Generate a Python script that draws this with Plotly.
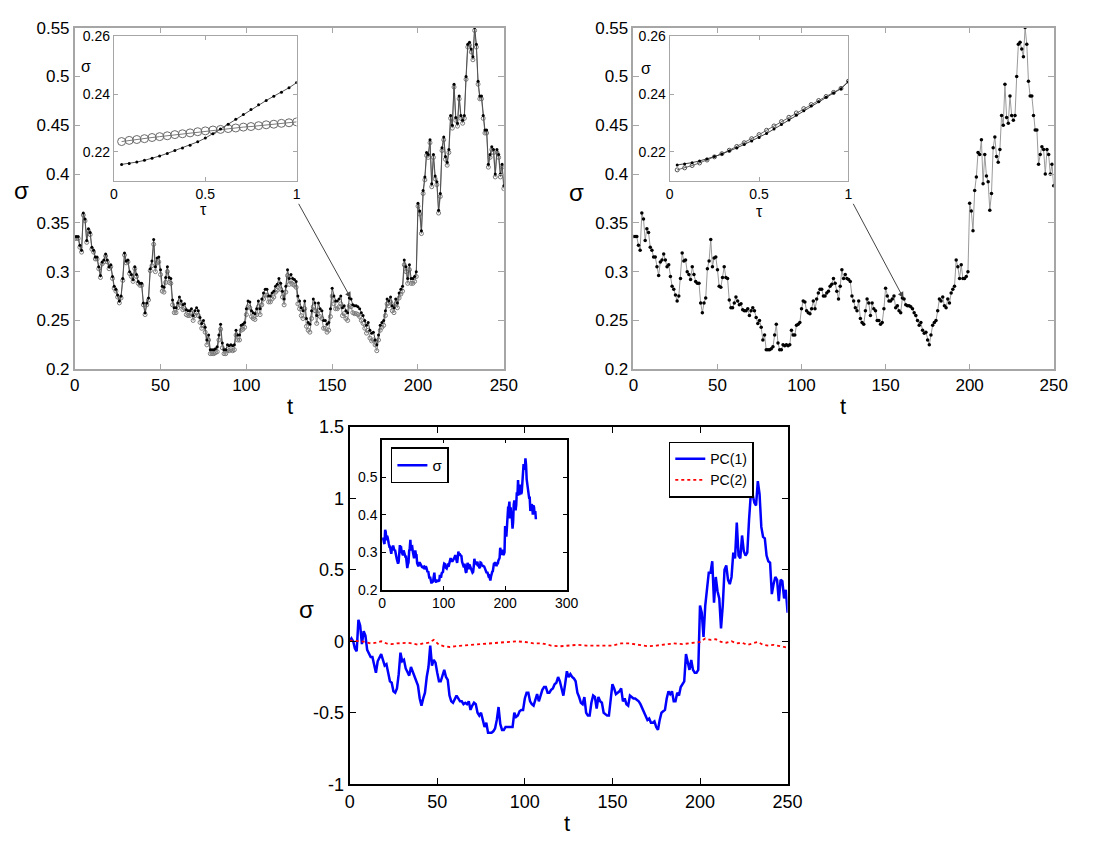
import plotly.graph_objects as go

W, H = 1106, 844
FONT = "Liberation Sans, Arial, sans-serif"

# ---------------- data ----------------
t = list(range(251))

sigma_market = [
    0.336, 0.336, 0.336, 0.327, 0.322, 0.360, 0.354, 0.332, 0.344, 0.340,
    0.325, 0.322, 0.315, 0.315, 0.305, 0.296, 0.310, 0.312, 0.318, 0.312,
    0.305, 0.307, 0.295, 0.285, 0.282, 0.276, 0.270, 0.275, 0.293, 0.319,
    0.311, 0.312, 0.300, 0.297, 0.292, 0.305, 0.297, 0.290, 0.288, 0.288,
    0.268, 0.258, 0.268, 0.273, 0.303, 0.311, 0.333, 0.305, 0.314, 0.315,
    0.302, 0.285, 0.284, 0.294, 0.305, 0.294, 0.293, 0.271, 0.263, 0.263,
    0.268, 0.274, 0.270, 0.266, 0.267, 0.261, 0.260, 0.260, 0.262, 0.255,
    0.260, 0.263, 0.260, 0.253, 0.247, 0.250, 0.243, 0.230, 0.235, 0.220,
    0.220, 0.220, 0.221, 0.223, 0.235, 0.246, 0.227, 0.220, 0.220, 0.225,
    0.224, 0.225, 0.224, 0.225, 0.240, 0.235, 0.235, 0.245, 0.246, 0.248,
    0.262, 0.270, 0.269, 0.260, 0.258, 0.257, 0.262, 0.270, 0.262, 0.272,
    0.278, 0.282, 0.282, 0.275, 0.275, 0.278, 0.280, 0.285, 0.287, 0.293,
    0.288, 0.280, 0.272, 0.285, 0.302, 0.293, 0.297, 0.293, 0.292, 0.290,
    0.275, 0.270, 0.263, 0.260, 0.270, 0.252, 0.248, 0.246, 0.260, 0.272,
    0.268, 0.255, 0.268, 0.262, 0.260, 0.250, 0.250, 0.246, 0.248, 0.262,
    0.283, 0.275, 0.270, 0.270, 0.272, 0.275, 0.263, 0.265, 0.260, 0.258,
    0.273, 0.272, 0.266, 0.265, 0.265, 0.264, 0.262, 0.258, 0.255, 0.250,
    0.245, 0.248, 0.240, 0.237, 0.238, 0.230, 0.225, 0.235, 0.245, 0.248,
    0.250, 0.260, 0.272, 0.270, 0.274, 0.265, 0.263, 0.272, 0.268, 0.278,
    0.282, 0.285, 0.312, 0.305, 0.293, 0.307, 0.293, 0.293, 0.295, 0.300,
    0.370, 0.362, 0.342, 0.383, 0.397, 0.422, 0.420, 0.435, 0.390, 0.420,
    0.398, 0.392, 0.363, 0.380, 0.427, 0.438, 0.418, 0.412, 0.425, 0.460,
    0.450, 0.492, 0.458, 0.452, 0.480, 0.460, 0.455, 0.460, 0.500, 0.533,
    0.535, 0.528, 0.520, 0.550, 0.533, 0.495, 0.480, 0.480, 0.460, 0.445,
    0.445, 0.410, 0.420, 0.428, 0.425, 0.400, 0.425, 0.420, 0.400, 0.410,
    0.388,
]

sigma_model = [
    0.334, 0.334, 0.334, 0.325, 0.320, 0.358, 0.352, 0.330, 0.342, 0.338,
    0.323, 0.320, 0.313, 0.313, 0.303, 0.294, 0.308, 0.310, 0.316, 0.310,
    0.303, 0.305, 0.293, 0.283, 0.280, 0.274, 0.268, 0.273, 0.291, 0.317,
    0.309, 0.310, 0.298, 0.295, 0.290, 0.303, 0.295, 0.288, 0.286, 0.286,
    0.266, 0.256, 0.266, 0.271, 0.301, 0.306, 0.328, 0.300, 0.309, 0.310,
    0.297, 0.280, 0.279, 0.289, 0.300, 0.289, 0.288, 0.266, 0.258, 0.258,
    0.263, 0.269, 0.265, 0.261, 0.262, 0.256, 0.255, 0.255, 0.257, 0.250,
    0.255, 0.258, 0.255, 0.248, 0.242, 0.245, 0.238, 0.225, 0.230, 0.216,
    0.216, 0.216, 0.217, 0.218, 0.230, 0.241, 0.222, 0.216, 0.216, 0.220,
    0.219, 0.220, 0.219, 0.220, 0.235, 0.230, 0.230, 0.240, 0.241, 0.243,
    0.256, 0.264, 0.263, 0.254, 0.252, 0.251, 0.256, 0.264, 0.256, 0.266,
    0.272, 0.276, 0.276, 0.269, 0.269, 0.272, 0.274, 0.279, 0.281, 0.287,
    0.282, 0.274, 0.266, 0.279, 0.296, 0.287, 0.291, 0.287, 0.286, 0.284,
    0.267, 0.262, 0.255, 0.252, 0.262, 0.244, 0.240, 0.238, 0.252, 0.264,
    0.260, 0.247, 0.260, 0.254, 0.252, 0.242, 0.242, 0.238, 0.240, 0.254,
    0.275, 0.267, 0.262, 0.262, 0.264, 0.267, 0.255, 0.257, 0.252, 0.250,
    0.265, 0.264, 0.258, 0.257, 0.257, 0.256, 0.254, 0.250, 0.247, 0.242,
    0.237, 0.240, 0.232, 0.229, 0.230, 0.225, 0.219, 0.230, 0.240, 0.243,
    0.245, 0.255, 0.267, 0.265, 0.269, 0.260, 0.258, 0.267, 0.263, 0.273,
    0.277, 0.280, 0.307, 0.300, 0.288, 0.302, 0.288, 0.288, 0.290, 0.295,
    0.367, 0.359, 0.339, 0.380, 0.394, 0.419, 0.417, 0.432, 0.387, 0.417,
    0.395, 0.389, 0.360, 0.377, 0.424, 0.435, 0.415, 0.409, 0.422, 0.457,
    0.447, 0.489, 0.455, 0.449, 0.477, 0.457, 0.452, 0.457, 0.497, 0.530,
    0.532, 0.525, 0.517, 0.547, 0.530, 0.492, 0.477, 0.477, 0.457, 0.442,
    0.442, 0.407, 0.417, 0.425, 0.422, 0.397, 0.422, 0.417, 0.397, 0.407,
    0.385,
]

pc1 = [
    0.00, 0.02, 0.00, -0.05, -0.07, 0.15, 0.11, -0.02, 0.07, 0.04,
    -0.06, -0.08, -0.11, -0.11, -0.17, -0.22, -0.14, -0.12, -0.09, -0.13,
    -0.17, -0.16, -0.22, -0.28, -0.29, -0.35, -0.36, -0.33, -0.23, -0.08,
    -0.14, -0.13, -0.19, -0.21, -0.24, -0.18, -0.21, -0.25, -0.28, -0.31,
    -0.40, -0.45, -0.40, -0.36, -0.25, -0.18, -0.03, -0.17, -0.13, -0.15,
    -0.22, -0.28, -0.28, -0.23, -0.20, -0.25, -0.27, -0.38, -0.42, -0.43,
    -0.41, -0.38, -0.40, -0.42, -0.42, -0.44, -0.43, -0.44, -0.42, -0.48,
    -0.45, -0.43, -0.44, -0.50, -0.52, -0.50, -0.55, -0.60, -0.57, -0.64,
    -0.64, -0.64, -0.63, -0.61, -0.55, -0.46, -0.58, -0.62, -0.62, -0.60,
    -0.60, -0.60, -0.60, -0.60, -0.50, -0.53, -0.52, -0.49, -0.48, -0.48,
    -0.40, -0.36, -0.36, -0.42, -0.44, -0.45, -0.41, -0.37, -0.42, -0.37,
    -0.34, -0.32, -0.32, -0.36, -0.36, -0.34, -0.33, -0.30, -0.29, -0.25,
    -0.28, -0.33, -0.38, -0.30, -0.21, -0.25, -0.23, -0.25, -0.26, -0.28,
    -0.36, -0.39, -0.43, -0.44, -0.39, -0.50, -0.52, -0.52, -0.43, -0.38,
    -0.39, -0.47, -0.39, -0.42, -0.43, -0.50, -0.51, -0.52, -0.52, -0.42,
    -0.30, -0.33, -0.37, -0.36, -0.35, -0.33, -0.42, -0.40, -0.44, -0.45,
    -0.38, -0.39, -0.40, -0.40, -0.41, -0.42, -0.44, -0.47, -0.50, -0.53,
    -0.55, -0.54, -0.57, -0.57, -0.56, -0.60, -0.62, -0.55, -0.50, -0.49,
    -0.48, -0.40, -0.35, -0.37, -0.35, -0.42, -0.42, -0.36, -0.38, -0.32,
    -0.30, -0.28, -0.09, -0.15, -0.20, -0.13, -0.20, -0.22, -0.22, -0.20,
    0.25, 0.20, 0.03, 0.25, 0.35, 0.48, 0.48, 0.56, 0.27, 0.45,
    0.35, 0.30, 0.09, 0.25, 0.50, 0.53, 0.43, 0.40, 0.45, 0.62,
    0.58, 0.83, 0.60, 0.58, 0.74, 0.63, 0.60, 0.62, 0.85, 1.03,
    1.03, 0.97, 0.95, 1.12, 1.03, 0.80, 0.73, 0.72, 0.60, 0.56,
    0.55, 0.33, 0.40, 0.45, 0.43, 0.28, 0.43, 0.42, 0.30, 0.36,
    0.20,
]

pc2_t = [0, 3, 6, 9, 12, 15, 18, 21, 24, 27, 30, 33, 36, 39, 42, 45, 48, 51,
         54, 57, 60, 65, 70, 75, 80, 85, 90, 95, 100, 105, 110, 115, 120, 125,
         130, 135, 140, 145, 150, 155, 160, 165, 170, 175, 180, 185, 190, 195,
         200, 203, 206, 209, 212, 215, 218, 221, 224, 227, 230, 233, 236, 239,
         242, 245, 248, 250]
pc2 = [0.005, 0.005, 0.0, -0.005, -0.015, -0.01, 0.0, -0.015, -0.02, -0.015,
       -0.01, -0.01, -0.015, -0.025, -0.015, -0.01, 0.01, -0.025, -0.035,
       -0.04, -0.035, -0.03, -0.03, -0.025, -0.02, -0.015, -0.01, 0.0, -0.005,
       -0.015, -0.015, -0.03, -0.035, -0.03, -0.025, -0.03, -0.03, -0.03,
       -0.03, -0.015, -0.015, -0.025, -0.035, -0.03, -0.02, -0.015, -0.02,
       -0.01, -0.005, 0.02, 0.01, 0.015, -0.005, -0.01, 0.0, -0.015, -0.01,
       -0.025, -0.015, -0.005, -0.025, -0.03, -0.025, -0.035, -0.04, -0.045]

tau = [0.0417, 0.0833, 0.125, 0.1667, 0.2083, 0.25, 0.2917, 0.3333, 0.375,
       0.4167, 0.4583, 0.5, 0.5417, 0.5833, 0.625, 0.6667, 0.7083, 0.75,
       0.7917, 0.8333, 0.875, 0.9167, 0.9583, 1.0]

smile_model_a = [0.2157, 0.2160, 0.2165, 0.2171, 0.2178, 0.2186, 0.2195,
                 0.2205, 0.2214, 0.2223, 0.2235, 0.2248, 0.2263, 0.2279,
                 0.2296, 0.2313, 0.2330, 0.2347, 0.2363, 0.2378, 0.2393,
                 0.2407, 0.2422, 0.2440]
smile_flat_a = [0.2236, 0.2240, 0.2243, 0.2246, 0.2250, 0.2253, 0.2256,
                0.2260, 0.2263, 0.2266, 0.2270, 0.2273, 0.2276, 0.2278,
                0.2281, 0.2283, 0.2286, 0.2288, 0.2291, 0.2294, 0.2296,
                0.2299, 0.2301, 0.2304]
smile_model_b = [0.2155, 0.2158, 0.2163, 0.2169, 0.2176, 0.2184, 0.2193,
                 0.2203, 0.2214, 0.2226, 0.2238, 0.2250, 0.2264, 0.2279,
                 0.2295, 0.2311, 0.2327, 0.2343, 0.2359, 0.2374, 0.2389,
                 0.2404, 0.2419, 0.2443]
smile_fit_b = [0.2138, 0.2145, 0.2153, 0.2162, 0.2172, 0.2183, 0.2194,
               0.2206, 0.2219, 0.2232, 0.2246, 0.2260, 0.2275, 0.2290,
               0.2305, 0.2320, 0.2335, 0.2350, 0.2364, 0.2378, 0.2392,
               0.2406, 0.2420, 0.2445]

main_t_ticks = [0, 50, 100, 150, 200, 250]
main_s_ticks = [0.2, 0.25, 0.3, 0.35, 0.4, 0.45, 0.5, 0.55]
main_s_text = ["0.2", "0.25", "0.3", "0.35", "0.4", "0.45", "0.5", "0.55"]
inset_tau_ticks = [0, 0.5, 1]
inset_tau_text = ["0", "0.5", "1"]
inset_s_ticks = [0.22, 0.24, 0.26]
inset_s_text = ["0.22", "0.24", "0.26"]
pc_ticks = [-1, -0.5, 0, 0.5, 1, 1.5]
pc_text = ["-1", "-0.5", "0", "0.5", "1", "1.5"]
inset3_t_ticks = [0, 100, 200, 300]
inset3_s_ticks = [0.2, 0.3, 0.4, 0.5]
inset3_s_text = ["0.2", "0.3", "0.4", "0.5"]


# ---------------- helpers ----------------
def px_x(a, b):
    return [a / W, b / W]


def px_y(top, bottom):
    return [1 - bottom / H, 1 - top / H]


def ax(domain, rng, tickvals, ticktext, color, lw, size, ticklen, anchor):
    return dict(domain=domain, range=rng, tickvals=tickvals, ticktext=ticktext,
                showline=True, linecolor=color, linewidth=lw, mirror="allticks",
                ticks="inside", ticklen=ticklen, tickcolor=color, tickwidth=1,
                showgrid=False, zeroline=False, anchor=anchor,
                tickfont=dict(family=FONT, size=size, color="black"))


GRAY = "#a6a6a6"

fig = go.Figure()

# top-left main
fig.add_trace(go.Scatter(x=t, y=sigma_model, xaxis="x", yaxis="y", mode="lines+markers",
                         line=dict(color="#8c8c8c", width=1),
                         marker=dict(symbol="circle-open", size=4, color="#7a7a7a", line=dict(width=1)),
                         showlegend=False, name="model"))
fig.add_trace(go.Scatter(x=t, y=sigma_market, xaxis="x", yaxis="y", mode="lines+markers",
                         line=dict(color="#505050", width=1),
                         marker=dict(symbol="circle", size=3, color="black"),
                         showlegend=False, name="market"))
# top-left inset
fig.add_trace(go.Scatter(x=tau, y=smile_flat_a, xaxis="x2", yaxis="y2", mode="lines+markers",
                         line=dict(color="#7a7a7a", width=1),
                         marker=dict(symbol="circle-open", size=8, color="#6a6a6a", line=dict(width=1)),
                         showlegend=False))
fig.add_trace(go.Scatter(x=tau, y=smile_model_a, xaxis="x2", yaxis="y2", mode="lines+markers",
                         line=dict(color="#555555", width=1),
                         marker=dict(symbol="circle", size=3, color="black"),
                         showlegend=False))
# top-right main
fig.add_trace(go.Scatter(x=t, y=sigma_market, xaxis="x3", yaxis="y3", mode="lines+markers",
                         line=dict(color="#9a9a9a", width=1),
                         marker=dict(symbol="circle", size=3.5, color="black"),
                         showlegend=False))
# top-right inset
fig.add_trace(go.Scatter(x=tau, y=smile_fit_b, xaxis="x4", yaxis="y4", mode="lines+markers",
                         line=dict(color="#666666", width=1),
                         marker=dict(symbol="circle-open", size=4, color="#555555", line=dict(width=1)),
                         showlegend=False))
fig.add_trace(go.Scatter(x=tau, y=smile_model_b, xaxis="x4", yaxis="y4", mode="lines+markers",
                         line=dict(color="#444444", width=1),
                         marker=dict(symbol="circle", size=3, color="black"),
                         showlegend=False))
# bottom main
fig.add_trace(go.Scatter(x=t, y=pc1, xaxis="x5", yaxis="y5", mode="lines",
                         line=dict(color="#0000ff", width=2.5), name="PC(1)", legend="legend"))
fig.add_trace(go.Scatter(x=pc2_t, y=pc2, xaxis="x5", yaxis="y5", mode="lines",
                         line=dict(color="#ff0000", width=1.8, dash="dot"), name="PC(2)", legend="legend"))
# bottom inset
fig.add_trace(go.Scatter(x=t, y=sigma_market, xaxis="x6", yaxis="y6", mode="lines",
                         line=dict(color="#0000ff", width=2.5), name="σ", legend="legend2"))

layout = dict(
    width=W, height=H, margin=dict(l=0, r=0, t=0, b=0),
    paper_bgcolor="white", plot_bgcolor="white",
    font=dict(family=FONT, color="black"),
    xaxis=ax(px_x(71, 508), [0, 250], main_t_ticks, [str(v) for v in main_t_ticks], GRAY, 1.5, 17, 6, "y"),
    yaxis=ax(px_y(18, 368), [0.2, 0.55], main_s_ticks, main_s_text, GRAY, 1.5, 17, 6, "x"),
    xaxis2=ax(px_x(111, 297), [0, 1], inset_tau_ticks, inset_tau_text, GRAY, 1.2, 14, 4, "y2"),
    yaxis2=ax(px_y(27, 175), [0.21, 0.26], inset_s_ticks, inset_s_text, GRAY, 1.2, 14, 4, "x2"),
    xaxis3=ax(px_x(640, 1068), [0, 250], main_t_ticks, [str(v) for v in main_t_ticks], GRAY, 1.5, 17, 6, "y3"),
    yaxis3=ax(px_y(18, 368), [0.2, 0.55], main_s_ticks, main_s_text, GRAY, 1.5, 17, 6, "x3"),
    xaxis4=ax(px_x(677, 859), [0, 1], inset_tau_ticks, inset_tau_text, GRAY, 1.2, 14, 4, "y4"),
    yaxis4=ax(px_y(27, 175), [0.21, 0.26], inset_s_ticks, inset_s_text, GRAY, 1.2, 14, 4, "x4"),
    xaxis5=ax(px_x(351, 797), [0, 250], main_t_ticks, [str(v) for v in main_t_ticks], "black", 2, 18, 6, "y5"),
    yaxis5=ax(px_y(427, 793), [-1, 1.5], pc_ticks, pc_text, "black", 2, 18, 6, "x5"),
    xaxis6=ax(px_x(384, 572), [0, 300], inset3_t_ticks, [str(v) for v in inset3_t_ticks], "black", 1.5, 14, 4, "y6"),
    yaxis6=ax(px_y(440, 594), [0.2, 0.6], inset3_s_ticks, inset3_s_text, "black", 1.5, 14, 4, "x6"),
    legend=dict(x=676 / W, y=1 - 442 / H, xanchor="left", yanchor="top",
                bordercolor="black", borderwidth=1.5, bgcolor="white",
                font=dict(family=FONT, size=14, color="black"), itemwidth=30,
                tracegroupgap=0),
    legend2=dict(x=393 / W, y=1 - 448 / H, xanchor="left", yanchor="top",
                 bordercolor="black", borderwidth=1.5, bgcolor="white",
                 font=dict(family=FONT, size=15, color="black"), itemwidth=30),
    showlegend=True,
)
fig.update_layout(**layout)


def label(text, x, y, size):
    fig.add_annotation(text=text, x=x / W, y=1 - y / H, xref="paper", yref="paper",
                       showarrow=False, xanchor="center", yanchor="middle",
                       font=dict(family=FONT, size=size, color="black"))


label("σ", 17, 185, 24)
label("t", 290, 406, 22)
label("σ", 582, 187, 24)
label("t", 853, 406, 22)
label("σ", 307, 614, 24)
label("t", 572, 833, 22)
label("τ", 202, 204, 16)
label("σ", 82, 58, 16)
label("τ", 768, 206, 16)
label("σ", 653, 60, 16)

# arrows pointing from insets into the main curves
fig.add_annotation(x=160.8, y=0.273, ax=130, ay=0.371, xref="x", yref="y", axref="x", ayref="y",
                   showarrow=True, arrowhead=2, arrowsize=1.2, arrowwidth=1, arrowcolor="#444444", text="")
fig.add_annotation(x=160.6, y=0.273, ax=130.3, ay=0.371, xref="x3", yref="y3", axref="x3", ayref="y3",
                   showarrow=True, arrowhead=2, arrowsize=1.2, arrowwidth=1, arrowcolor="#444444", text="")

fig.write_html("out.html")
